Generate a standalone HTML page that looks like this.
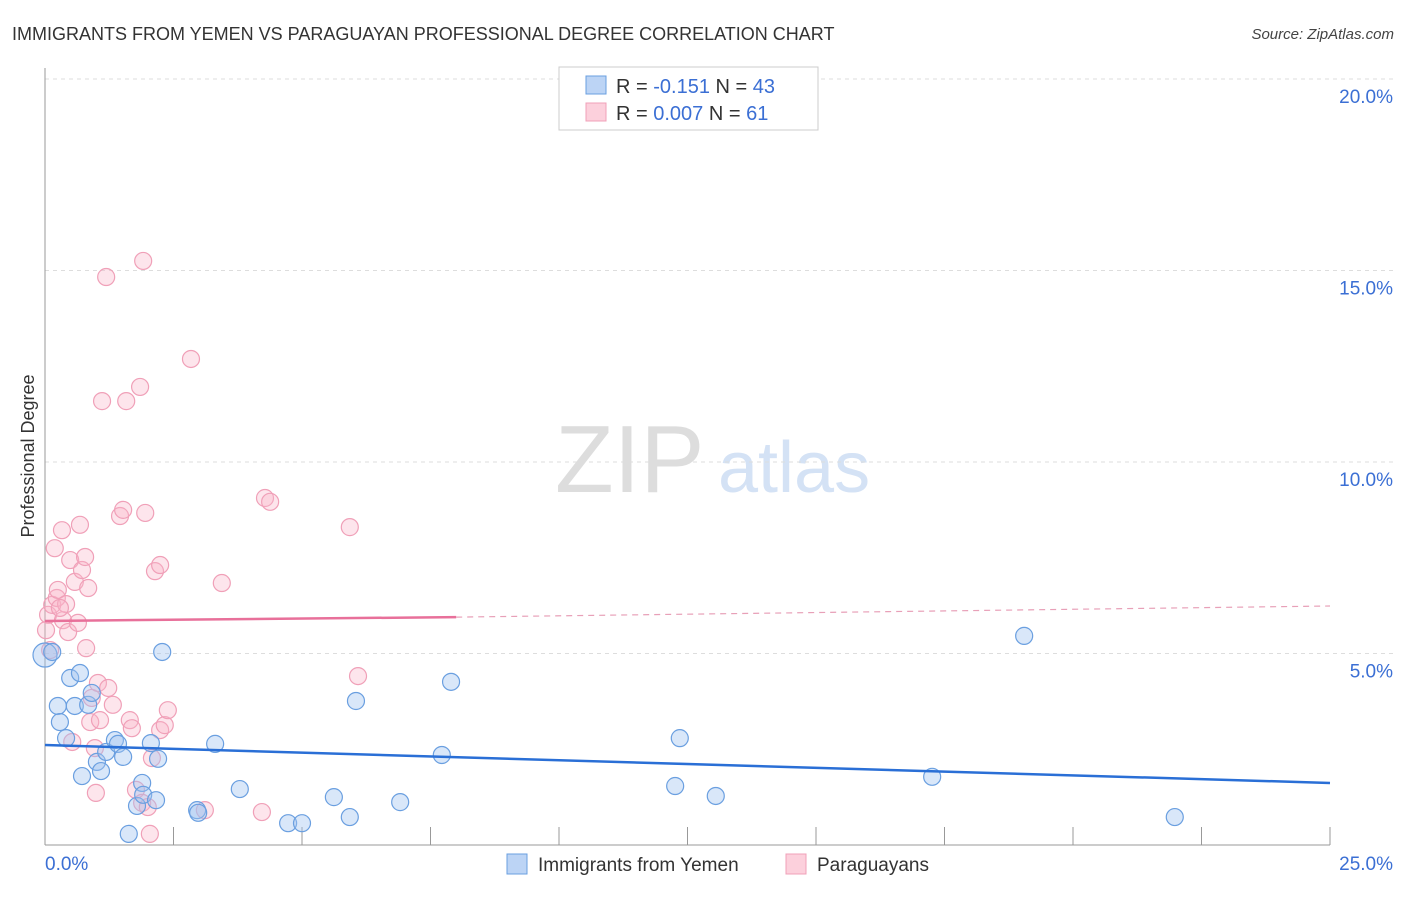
<!DOCTYPE html>
<html><head><meta charset="utf-8"><style>
body{margin:0;background:#fff;font-family:"Liberation Sans",sans-serif;}
svg text{font-family:"Liberation Sans",sans-serif;}
</style></head><body>
<svg id="chart" width="1406" height="892" xmlns="http://www.w3.org/2000/svg">
<text x="12" y="40" font-size="18" fill="#333">IMMIGRANTS FROM YEMEN VS PARAGUAYAN PROFESSIONAL DEGREE CORRELATION CHART</text>
<text x="1394" y="39" font-size="15" fill="#444" text-anchor="end" font-style="italic">Source: ZipAtlas.com</text>
<text x="555" y="492" font-size="96" fill="#ddd" font-family="Liberation Serif,serif">ZIP</text>
<text x="718" y="492" font-size="72" fill="#d4e2f5">atlas</text>
<g id="grid"></g>
<g id="axes"></g>
<g id="pts"></g>
<g id="trend"></g>
<text transform="translate(34,456) rotate(-90)" font-size="18" fill="#333" text-anchor="middle">Professional Degree</text>
<g>
<rect x="559" y="67" width="259" height="63" fill="#fff" stroke="#ccc"/>
<rect x="586" y="76" width="20" height="18" fill="#bcd4f5" stroke="#6a9fe0"/>
<rect x="586" y="103" width="20" height="18" fill="#fcd0dc" stroke="#f0a0b8"/>
<text x="616" y="93" font-size="20" fill="#333">R = <tspan fill="#3b6fd4">-0.151</tspan>   N = <tspan fill="#3b6fd4">43</tspan></text>
<text x="616" y="120" font-size="20" fill="#333">R = <tspan fill="#3b6fd4">0.007</tspan>    N =  <tspan fill="#3b6fd4">61</tspan></text>
</g>
<g>
<rect x="507" y="854" width="20" height="20" fill="#bcd4f5" stroke="#6a9fe0"/>
<text x="538" y="871" font-size="19" fill="#333">Immigrants from Yemen</text>
<rect x="786" y="854" width="20" height="20" fill="#fcd0dc" stroke="#f0a0b8"/>
<text x="817" y="871" font-size="19" fill="#333">Paraguayans</text>
</g>
</svg>
<script>
const blueX=[0,0.14,0.25,0.29,0.41,0.49,0.58,0.68,0.72,0.84,0.91,1.01,1.09,1.19,1.36,1.42,1.52,1.63,1.79,1.89,1.91,2.06,2.16,2.20,2.28,2.96,2.98,3.31,3.79,4.73,5.00,5.62,5.93,6.05,6.91,7.72,7.90,12.26,12.35,13.05,17.26,19.05,21.98];
const blueY=[4.96,5.04,3.63,3.21,2.79,4.36,3.63,4.49,1.80,3.66,3.97,2.17,1.93,2.43,2.74,2.64,2.30,0.29,1.02,1.62,1.31,2.66,1.17,2.25,5.04,0.91,0.84,2.64,1.46,0.57,0.57,1.25,0.73,3.76,1.12,2.35,4.26,1.54,2.79,1.28,1.78,5.46,0.73];
const pinkX=[0.19,0.33,0.06,0.14,0.23,0.25,0.35,0.41,0.45,0.49,0.53,0.58,0.64,0.68,0.72,0.78,0.80,0.84,0.88,0.91,0.97,0.99,1.03,1.07,1.11,1.19,1.23,1.32,1.46,1.52,1.58,1.65,1.69,1.77,1.85,1.89,1.91,1.95,2.00,2.04,2.08,2.14,2.24,2.24,2.33,2.39,2.84,3.11,3.44,4.22,4.28,4.38,5.93,6.09,0.10,0.02,0.29];
const pinkY=[7.75,8.22,6.01,6.27,6.45,6.66,5.87,6.29,5.56,7.44,2.69,6.87,5.80,8.36,7.18,7.52,5.14,6.71,3.21,3.84,2.53,1.36,4.23,3.26,11.59,14.83,4.10,3.66,8.59,8.75,11.59,3.26,3.05,1.44,11.96,1.10,15.25,8.67,0.99,0.29,2.27,7.15,7.31,3.00,3.13,3.52,12.69,0.91,6.84,0.86,9.06,8.96,8.30,4.41,5.09,5.61,6.19];
const yTicks=[5,10,15,20];
const yTickLabels=["5.0%","10.0%","15.0%","20.0%"];
const blueTrend=[[0,2.61],[25,1.62]];
const pinkTrend=[[0,5.85],[8,5.95],[25,6.24]];
const NS="http://www.w3.org/2000/svg";
const sx=v=>45+v*51.4, sy=v=>845-v*38.3;
function mk(tag,attrs,parent){const e=document.createElementNS(NS,tag);for(const k in attrs)e.setAttribute(k,attrs[k]);document.getElementById(parent).appendChild(e);return e;}
yTicks.forEach((t,i)=>{
 const l=mk('line',{x1:45,x2:1393,y1:sy(t),y2:sy(t),stroke:'#ddd','stroke-dasharray':'4,4'},'grid');
 
 
 const tx=mk('text',{x:1393,y:sy(t)+24,'font-size':19,fill:'#3b6fd4','text-anchor':'end'},'axes');
 tx.textContent=yTickLabels[i];
 
 
});
const ya=mk('line',{x1:45,x2:45,y1:68,y2:845,stroke:'#999'},'axes');


const xa=mk('line',{x1:45,x2:1330,y1:845,y2:845,stroke:'#999'},'axes');


for(let i=0;i<=10;i++){const t=mk('line',{x1:sx(i*2.5),x2:sx(i*2.5),y1:827,y2:845,stroke:'#999'},'axes');
 
 }
[["0.0%",45,"start"],["25.0%",1393,"end"]].forEach(a=>{const t=mk('text',{x:a[1],y:870,'font-size':19,fill:'#3b6fd4','text-anchor':a[2]},'axes');t.textContent=a[0];
 
 });
pinkX.forEach((x,i)=>{const c=mk('circle',{cx:sx(x),cy:sy(pinkY[i]),r:8.5,fill:'rgba(248,180,200,0.35)',stroke:'#f0a0b8','stroke-width':1.2},'pts');
 
 });
blueX.forEach((x,i)=>{const c=mk('circle',{cx:sx(x),cy:sy(blueY[i]),r:i==0?12:8.5,fill:'rgba(160,195,240,0.4)',stroke:'#6a9fe0','stroke-width':1.2},'pts');
 
 });
const bl=mk('line',{x1:sx(blueTrend[0][0]),y1:sy(blueTrend[0][1]),x2:sx(blueTrend[1][0]),y2:sy(blueTrend[1][1]),stroke:'#2a6fd6','stroke-width':2.5},'trend');


const p1=mk('line',{x1:sx(pinkTrend[0][0]),y1:sy(pinkTrend[0][1]),x2:sx(pinkTrend[1][0]),y2:sy(pinkTrend[1][1]),stroke:'#e8709a','stroke-width':2.5},'trend');


const p2=mk('line',{x1:sx(pinkTrend[1][0]),y1:sy(pinkTrend[1][1]),x2:sx(pinkTrend[2][0]),y2:sy(pinkTrend[2][1]),stroke:'#e8a0b8','stroke-width':1.2,'stroke-dasharray':'6,5'},'trend');


</script>
</body></html>
